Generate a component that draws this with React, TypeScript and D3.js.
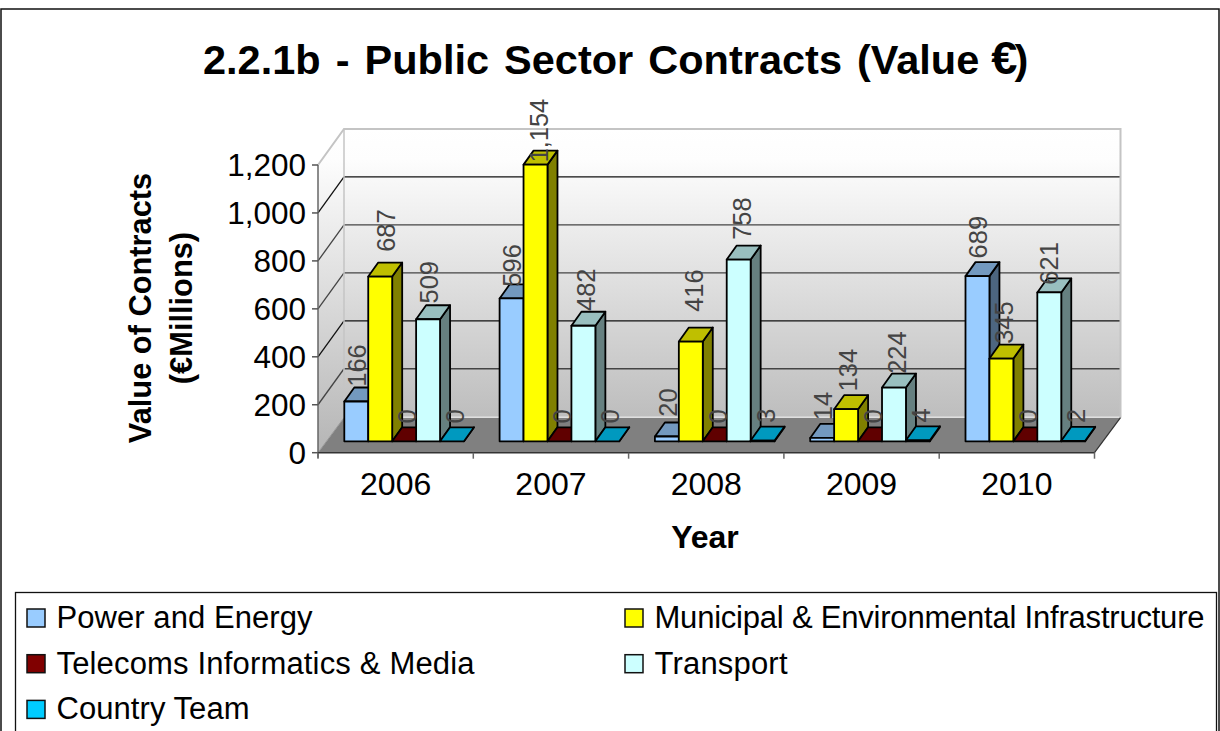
import React from "react";
import * as d3 from "d3";

const years = ["2006", "2007", "2008", "2009", "2010"];
const seriesNames = ["Power and Energy", "Municipal & Environmental Infrastructure", "Telecoms Informatics & Media", "Transport", "Country Team"];
const powerEnergy = [166, 596, 20, 14, 689];
const municipal = [687, 1154, 416, 134, 345];
const telecoms = [0, 0, 0, 0, 0];
const transport = [509, 482, 758, 224, 621];
const countryTeam = [0, 0, 3, 4, 2];
const yTicks = [0, 200, 400, 600, 800, 1000, 1200];
const fronts = ["#99CCFF", "#FFFF00", "#660000", "#CCFFFF", "#00CCFF"];
const tops = ["#7399BF", "#BFBF00", "#600000", "#99BFBF", "#0099BF"];
const sides = ["#4D6680", "#808000", "#400000", "#668080", "#006680"];
const legendFronts = ["#99CCFF", "#FFFF00", "#800000", "#CCFFFF", "#00CCFF"];
const legendWidths = [256, 550, 418, 133, 193];
// hand placement of the data labels relative to the bar top, by series then year
const labelShiftY = [
  [0, 3, -5, -3, -3],
  [-10, 2, -15, -3, 0],
  [0, 0, 0, 0, 0],
  [-1, 0, -5, 1, 7],
  [0, 0, 0, 0, 0],
];
const labelShiftX = [
  [-2, -3, -2, -2, -3],
  [3, 0, 0, -1, 0],
  [0, 0, 0, 0, 0],
  [-2, 0, 0, 0, -3],
  [0, 0, 0, 0, 0],
];

const allSeries = [powerEnergy, municipal, telecoms, transport, countryTeam];
const FONT = "'Liberation Sans', Arial, sans-serif";
const DX = 26, DY = 35, BX = 10, BY = 14;
const axisLeft = 318, axisRight = 1094.5, axisBase = 452.7, axisTop = 165;
const barOffsetY = 11.4;

const y = d3.scaleLinear().domain([0, 1200]).range([axisBase, axisTop]);
const x0 = d3.scaleBand<string>().domain(years).range([axisLeft, axisRight]);
const x1 = d3.scaleBand<number>().domain([0, 1, 2, 3, 4]).range([26.3, 146]);
const poly = (pts: number[][]) => d3.line()(pts as [number, number][]) + "Z";

export default function App() {
  const fmt = d3.format(",");
  const baseY = axisBase - barOffsetY;
  const bw = x1.bandwidth();
  return (
    <svg width={1220} height={731} style={{ position: "absolute", left: 0, top: 0, background: "#fff" }} fontFamily={FONT}>
      <defs>
        <linearGradient id="wall" gradientUnits="userSpaceOnUse" x1={0} x2={0} y1={129} y2={440}>
          <stop offset="0" stopColor="#ffffff" />
          <stop offset="0.1" stopColor="#fdfdfd" />
          <stop offset="1" stopColor="#b8b8b8" />
        </linearGradient>
      </defs>
      <rect x={1} y={9} width={1218} height={740} fill="#fff" stroke="#111" strokeWidth={1.5} />
      <text x={203} y={74} fontSize={41.5} fontWeight="bold" wordSpacing={3.5}>
        2.2.1b - Public Sector Contracts (Value <tspan fontSize={47} dx={-3}>€</tspan><tspan dx={-3}>)</tspan>
      </text>

      {/* walls */}
      <path d={poly([[axisLeft, axisTop], [axisLeft + DX, axisTop - DY - 1], [axisLeft + DX, axisBase - DY], [axisLeft, axisBase]])} fill="url(#wall)" />
      <rect x={axisLeft + DX} y={axisTop - DY - 1} width={axisRight - axisLeft} height={axisBase - axisTop} fill="url(#wall)" />
      <path d={poly([[axisLeft, axisBase], [axisRight, axisBase], [axisRight + DX, axisBase - DY], [axisLeft + DX, axisBase - DY]])} fill="#808080" />
      {yTicks.slice(1, 6).map((t, i) => (
        <g key={t} stroke={i % 3 === 1 ? "#111" : "#444"} strokeWidth={1.3} fill="none">
          <line x1={axisLeft + DX} x2={axisRight + DX} y1={y(t) - DY - 1} y2={y(t) - DY - 1} />
          <line x1={axisLeft} x2={axisLeft + DX} y1={y(t)} y2={y(t) - DY - 1} />
        </g>
      ))}
      <path d={`M${axisLeft},${axisTop}L${axisLeft + DX},${axisTop - DY - 1}H${axisRight + DX}V${axisBase - DY}`} fill="none" stroke="#c4c4c4" strokeWidth={2} />
      <line x1={axisLeft + DX} x2={axisLeft + DX} y1={axisTop - DY - 1} y2={axisBase - DY} stroke="#c4c4c4" strokeWidth={1.5} />
      <path d={`M${axisRight},${axisBase}L${axisRight + DX},${axisBase - DY}`} stroke="#333" strokeWidth={1.2} fill="none" />
      <path d={`M${axisLeft},${axisBase}L${axisLeft + DX},${axisBase - DY}`} stroke="#999" strokeWidth={1} fill="none" />

      {/* axes */}
      <line x1={axisLeft} x2={axisLeft} y1={axisTop} y2={axisBase + 5} stroke="#666" strokeWidth={1.5} />
      <line x1={axisLeft} x2={axisRight} y1={axisBase} y2={axisBase} stroke="#333" strokeWidth={1.5} />
      {yTicks.map(t => (
        <g key={t}>
          <line x1={axisLeft - 6} x2={axisLeft} y1={y(t)} y2={y(t)} stroke="#555" strokeWidth={1.5} />
          <text x={306} y={y(t) + 11} textAnchor="end" fontSize={31.5}>{fmt(t)}</text>
        </g>
      ))}
      {years.map(yr => (
        <g key={yr}>
          <line x1={x0(yr)!} x2={x0(yr)!} y1={axisBase} y2={axisBase + 6} stroke="#666" strokeWidth={1.5} />
          <text x={x0(yr)! + x0.bandwidth() / 2} y={495} textAnchor="middle" fontSize={32}>{yr}</text>
        </g>
      ))}
      <line x1={axisRight} x2={axisRight} y1={axisBase} y2={axisBase + 6} stroke="#666" strokeWidth={1.5} />

      {/* bars */}
      {years.map((yr, c) =>
        allSeries.map((vals, s) => {
          const v = vals[c];
          const bx = x0(yr)! + x1(s)!;
          const top = baseY - (axisBase - y(v));
          const right = bx + bw;
          return (
            <g key={yr + s} stroke="#000" strokeWidth={1.8} strokeLinejoin="round">
              <path d={poly([[right, top], [right + BX, top - BY], [right + BX, baseY - BY], [right, baseY]])} fill={sides[s]} />
              <path d={poly([[bx, top], [bx + BX, top - BY], [right + BX, top - BY], [right, top]])} fill={tops[s]} />
              <rect x={bx} y={top} width={bw} height={baseY - top} fill={fronts[s]} />
            </g>
          );
        })
      )}
      {/* data labels */}
      {years.map((yr, c) =>
        allSeries.map((vals, s) => {
          const v = vals[c];
          const label = fmt(v);
          const top = baseY - (axisBase - y(v)) - BY;
          const cx = x0(yr)! + x1(s)! + 15 + labelShiftX[s][c];
          const cy = top - (label.length === 1 ? 11 : label.length === 2 ? 15 : 22) + labelShiftY[s][c];
          return (
            <text key={yr + s} transform={`translate(${cx + 9},${cy}) rotate(-90)`} textAnchor="middle" fontSize={25.5} fill="#444">
              {label}
            </text>
          );
        })
      )}

      {/* axis titles */}
      <text transform="translate(151,308) rotate(-90)" textAnchor="middle" fontSize={30.8} fontWeight="bold">Value of Contracts</text>
      <text transform="translate(192,308) rotate(-90)" textAnchor="middle" fontSize={30.8} fontWeight="bold">(€Millions)</text>
      <text x={705} y={548} textAnchor="middle" fontSize={32} fontWeight="bold">Year</text>

      {/* legend */}
      <rect x={15.5} y={592.5} width={1201} height={150} fill="#fff" stroke="#111" strokeWidth={1.3} />
      {seriesNames.map((name, i) => {
        const col = i % 2, row = Math.floor(i / 2);
        const sx = col === 0 ? 27 : 625;
        const cy = 618 + row * 45.7;
        return (
          <g key={name}>
            <rect x={sx} y={cy - 9} width={18} height={18} fill={legendFronts[i]} stroke="#111" strokeWidth={1.5} />
            <text x={sx + 29.5} y={cy + 10} fontSize={31} textLength={legendWidths[i]} lengthAdjust="spacing">{name}</text>
          </g>
        );
      })}
    </svg>
  );
}
